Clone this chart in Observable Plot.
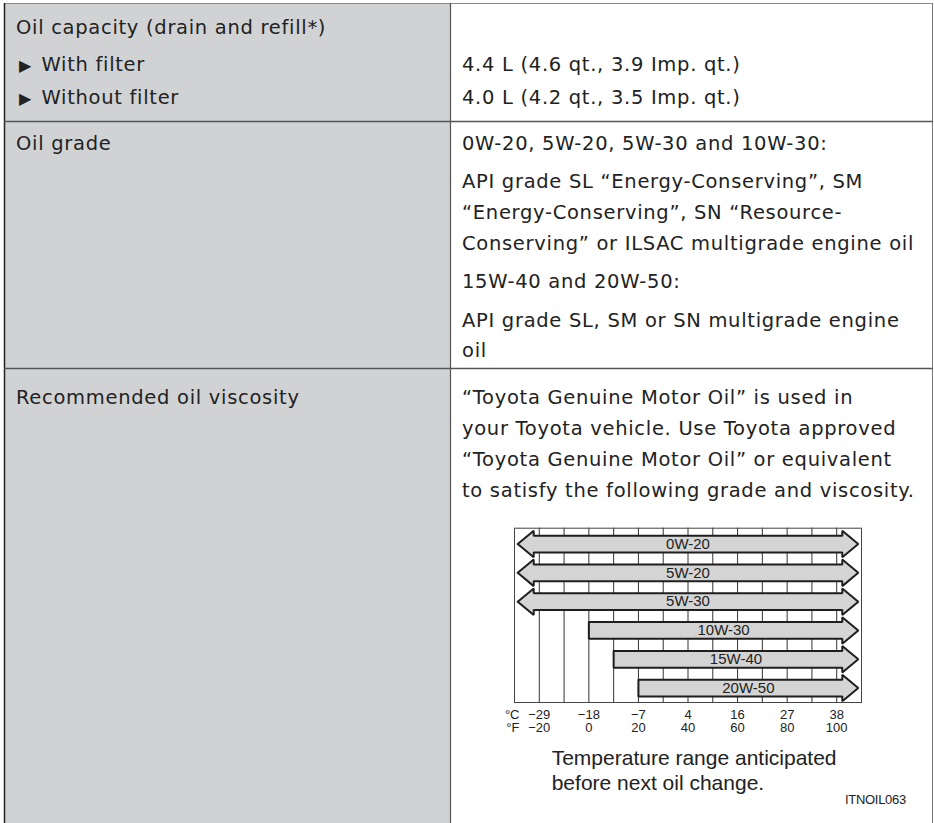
<!DOCTYPE html>
<html><head><meta charset="utf-8">
<script src="https://cdn.jsdelivr.net/npm/d3@7"></script>
<script src="https://cdn.jsdelivr.net/npm/@observablehq/plot@0.6"></script>
<style>
html,body{margin:0;padding:0;background:#fff;}
#page{position:relative;width:934px;height:823px;overflow:hidden;}
#table{position:absolute;left:0;top:0;}
#chart{position:absolute;left:480px;top:510px;}
</style></head>
<body><div id="page"><svg id="table" width="934" height="823"></svg><div id="chart"></div></div>
<script>
// ---------- chart data ----------
const grades = ["0W-20", "5W-20", "5W-30", "10W-30", "15W-40", "20W-50"];
const minTempF = [null, null, null, 0, 10, 20];   // null = no lower limit (arrow)
const maxTempF = [null, null, null, null, null, null]; // null = no upper limit (arrow)
const tickF = [-20, 0, 20, 40, 60, 80, 100];
const tickCLabels = ["−29", "−18", "−7", "4", "16", "27", "38"];
const tickFLabels = ["−20", "0", "20", "40", "60", "80", "100"];
const gridF = [-20, -10, 0, 10, 20, 30, 40, 50, 60, 70, 80, 90, 100];
const unitLabels = ["°C", "°F"];
const captionLines = ["Temperature range anticipated", "before next oil change."];
const figureCode = "ITNOIL063";

// ---------- table text ----------
const row1Left = ["Oil capacity (drain and refill*)", "With filter", "Without filter"];
const row1Bullets = [false, true, true];
const row1Right = ["4.4 L (4.6 qt., 3.9 Imp. qt.)", "4.0 L (4.2 qt., 3.5 Imp. qt.)"];
const row2Left = ["Oil grade"];
const row2Right = [
  "0W-20, 5W-20, 5W-30 and 10W-30:",
  "API grade SL \u201cEnergy-Conserving\u201d, SM",
  "\u201cEnergy-Conserving\u201d, SN \u201cResource-",
  "Conserving\u201d or ILSAC multigrade engine oil",
  "15W-40 and 20W-50:",
  "API grade SL, SM or SN multigrade engine",
  "oil"
];
const row3Left = ["Recommended oil viscosity"];
const row3Right = [
  "\u201cToyota Genuine Motor Oil\u201d is used in",
  "your Toyota vehicle. Use Toyota approved",
  "\u201cToyota Genuine Motor Oil\u201d or equivalent",
  "to satisfy the following grade and viscosity."
];

// ---------- table drawing ----------
const svg = d3.select("#table");
const TXT = "#222";
const bodyFont = "'DejaVu Sans', sans-serif";
svg.append("rect").attr("x", 4).attr("y", 3).attr("width", 446.5).attr("height", 820).attr("fill", "#d1d2d4");
svg.append("rect").attr("x", 450.5).attr("y", 3).attr("width", 482).attr("height", 820).attr("fill", "#fff");
const line = (x1, y1, x2, y2, c, w) => svg.append("line").attr("x1", x1).attr("y1", y1).attr("x2", x2).attr("y2", y2).attr("stroke", c).attr("stroke-width", w);
line(4, 3.5, 933, 3.5, "#8a8a8a", 1);
line(4.5, 3, 4.5, 823, "#222", 1.5);
line(932.5, 3, 932.5, 823, "#7a7a7a", 1);
line(450.5, 3, 450.5, 823, "#555", 1.2);
line(4, 121.5, 933, 121.5, "#555", 1.3);
line(4, 368.5, 933, 368.5, "#555", 1.3);

function txt(x, y, s, opts = {}) {
  return svg.append("text").attr("x", x).attr("y", y)
    .attr("font-family", opts.font || bodyFont)
    .attr("font-size", opts.size || 19.5)
    .attr("letter-spacing", opts.ls != null ? opts.ls : 0.7)
    .attr("fill", TXT).text(s);
}
const row1LeftY = [33.5, 70.5, 103.5];
row1Left.forEach((s, i) => {
  if (row1Bullets[i]) {
    txt(19, row1LeftY[i] + 0.5, "\u25B6", {size: 16, ls: 0});
    txt(41.5, row1LeftY[i], s);
  } else txt(16, row1LeftY[i], s);
});
[71, 104].forEach((y, i) => txt(462, y, row1Right[i]));
txt(16, 150, row2Left[0]);
[150, 187.7, 218.5, 249.5, 287.7, 326.5, 357].forEach((y, i) => txt(462, y, row2Right[i]));
txt(16, 404, row3Left[0]);
[404, 435, 466, 497].forEach((y, i) => txt(462, y, row3Right[i]));
txt(551.7, 765, captionLines[0], {font: "'Liberation Sans', Arial, sans-serif", size: 21, ls: 0});
txt(551.7, 790, captionLines[1], {font: "'Liberation Sans', Arial, sans-serif", size: 21, ls: 0});
txt(845, 804, figureCode, {font: "'Liberation Sans', Arial, sans-serif", size: 13, ls: -0.3});

// ---------- chart geometry ----------
const X_DOMAIN = [-30, 110];
const OPEN_PAD = 1.3;   // open-ended arrow tip inset (°F)
const HEAD = 6.45;      // arrowhead length (°F)
const SH = 0.29;        // shaft half height (rows)
const HH = 0.46;        // head half height (rows)

const arrows = [];
const labels = [];
grades.forEach((g, i) => {
  const lo = minTempF[i], hi = maxTempF[i];
  const tipR = hi == null ? X_DOMAIN[1] - OPEN_PAD : hi;
  const baseR = hi == null ? tipR - HEAD : hi;
  let pts, left;
  if (lo == null) {
    const tipL = X_DOMAIN[0] + OPEN_PAD, baseL = tipL + HEAD;
    left = tipL;
    pts = [[tipL, i], [baseL, i - HH], [baseL, i - SH], [baseR, i - SH], [baseR, i - HH], [tipR, i],
           [baseR, i + HH], [baseR, i + SH], [baseL, i + SH], [baseL, i + HH], [tipL, i]];
  } else {
    left = lo;
    pts = [[lo, i - SH], [baseR, i - SH], [baseR, i - HH], [tipR, i], [baseR, i + HH], [baseR, i + SH],
           [lo, i + SH], [lo, i - SH]];
  }
  pts.forEach(([x, y]) => arrows.push({grade: g, x, y}));
  labels.push({grade: g, x: (left + tipR) / 2, y: i});
});
const tickLabel = new Map(tickF.map((f, i) => [f, tickCLabels[i] + "\n" + tickFLabels[i]]));

const chart = Plot.plot({
  width: 420, height: 240,
  marginLeft: 34, marginRight: 39, marginTop: 17.7, marginBottom: 48,
  x: {domain: X_DOMAIN, axis: null},
  y: {domain: [-0.55, 5.5], reverse: true, axis: null},
  style: {background: "transparent", fontFamily: "'Liberation Sans', Arial, sans-serif", fontSize: "13px", color: "#222"},
  marks: [
    Plot.ruleX(gridF, {stroke: "#333", strokeWidth: 1}),
    Plot.frame({stroke: "#444", strokeWidth: 1}),
    Plot.line(arrows, {x: "x", y: "y", z: "grade", fill: "#d4d4d4", stroke: "#1e1e1e", strokeWidth: 2, strokeLinejoin: "miter"}),
    Plot.text(labels, {x: "x", y: "y", text: "grade", fontSize: 15, fill: "#222"}),
    Plot.axisX(tickF, {anchor: "bottom", tickSize: 0, tickPadding: 7, tickFormat: d => tickLabel.get(d), fontSize: 13, lineHeight: 1.03, label: null}),
    Plot.text([unitLabels.join("\n")], {text: d => d, frameAnchor: "bottom-left", textAnchor: "end", lineAnchor: "top", dx: 5, dy: 7, fontSize: 13, lineHeight: 1.03, fill: "#222"})
  ]
});
document.getElementById("chart").appendChild(chart);
</script>
</body></html>
